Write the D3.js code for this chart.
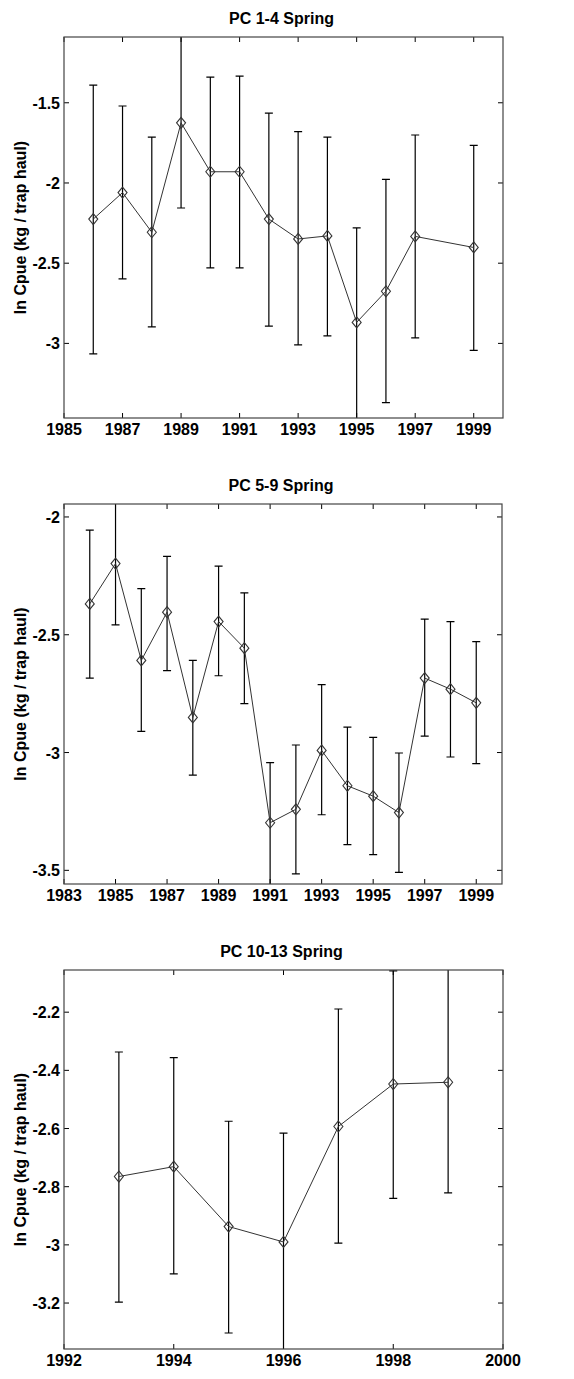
<!DOCTYPE html>
<html>
<head>
<meta charset="utf-8">
<script src="https://cdn.jsdelivr.net/npm/d3@7"></script>
<style>
  body { margin: 0; background: #fff; }
  text { font-family: "Liberation Sans", Arial, sans-serif; font-weight: bold; fill: #000; }
</style>
</head>
<body>
<svg width="574" height="1379"></svg>
<script>
// panel 1: PC 1-4 Spring
const years1 = [1986, 1987, 1988, 1989, 1990, 1991, 1992, 1993, 1994, 1995, 1996, 1997, 1999];
const mean1  = [-2.225, -2.06, -2.307, -1.625, -1.93, -1.93, -2.225, -2.349, -2.33, -2.869, -2.675, -2.333, -2.402];
const upper1 = [-1.39, -1.52, -1.714, -1.07, -1.34, -1.334, -1.564, -1.68, -1.714, -2.28, -1.977, -1.701, -1.766];
const lower1 = [-3.065, -2.598, -2.897, -2.156, -2.529, -2.529, -2.892, -3.009, -2.953, -3.48, -3.369, -2.965, -3.044];
const yTicks1 = [-3, -2.5, -2, -1.5];
const xTicks1 = [1985, 1987, 1989, 1991, 1993, 1995, 1997, 1999];

// panel 2: PC 5-9 Spring
const years2 = [1984, 1985, 1986, 1987, 1988, 1989, 1990, 1991, 1992, 1993, 1994, 1995, 1996, 1997, 1998, 1999];
const mean2  = [-2.369, -2.198, -2.609, -2.404, -2.851, -2.444, -2.557, -3.298, -3.241, -2.991, -3.141, -3.185, -3.255, -2.684, -2.731, -2.789];
const upper2 = [-2.056, -1.93, -2.304, -2.167, -2.609, -2.209, -2.322, -3.043, -2.968, -2.712, -2.892, -2.936, -3.002, -2.434, -2.444, -2.529];
const lower2 = [-2.684, -2.458, -2.91, -2.652, -3.096, -2.674, -2.792, -3.575, -3.515, -3.264, -3.391, -3.433, -3.509, -2.93, -3.019, -3.047];
const yTicks2 = [-3.5, -3, -2.5, -2];
const xTicks2 = [1983, 1985, 1987, 1989, 1991, 1993, 1995, 1997, 1999];

// panel 3: PC 10-13 Spring
const years3 = [1993, 1994, 1995, 1996, 1997, 1998, 1999];
const mean3  = [-2.765, -2.731, -2.937, -2.99, -2.593, -2.447, -2.441];
const upper3 = [-2.337, -2.356, -2.575, -2.616, -2.189, -2.058, -2.04];
const lower3 = [-3.197, -3.1, -3.303, -3.375, -2.994, -2.84, -2.821];
const yTicks3 = [-3.2, -3, -2.8, -2.6, -2.4, -2.2];
const xTicks3 = [1992, 1994, 1996, 1998, 2000];

const titles = ['PC 1-4 Spring', 'PC 5-9 Spring', 'PC 10-13 Spring'];
const yLabel = 'ln Cpue (kg / trap haul)';

const svg = d3.select('svg');

function drawPanel(i, box, xDom, yDom, xTicks, yTicks, years, mean, upper, lower) {
  const x = d3.scaleLinear().domain(xDom).range([box.left, box.right]);
  const y = d3.scaleLinear().domain(yDom).range([box.bottom, box.top]);
  const g = svg.append('g');
  const w = box.right - box.left, h = box.bottom - box.top;

  g.append('clipPath').attr('id', 'clip' + i)
    .append('rect').attr('x', box.left).attr('y', box.top).attr('width', w).attr('height', h);

  // ticks (inward, all four sides)
  const tk = 5;
  g.selectAll('.xt').data(xTicks).enter().append('path')
    .attr('d', d => `M${x(d)},${box.bottom}v${-tk}M${x(d)},${box.top}v${tk}`)
    .attr('stroke', '#000').attr('stroke-width', 1);
  g.selectAll('.yt').data(yTicks).enter().append('path')
    .attr('d', d => `M${box.left},${y(d)}h${tk}M${box.right},${y(d)}h${-tk}`)
    .attr('stroke', '#000').attr('stroke-width', 1);

  g.selectAll('.xl').data(xTicks).enter().append('text')
    .attr('x', d => x(d)).attr('y', box.bottom + 17)
    .attr('text-anchor', 'middle').attr('font-size', 16)
    .text(d => d);
  g.selectAll('.yl').data(yTicks).enter().append('text')
    .attr('x', box.left - 4).attr('y', d => y(d) + 6)
    .attr('text-anchor', 'end').attr('font-size', 16)
    .text(d => d);

  // error bars
  const pg = g.append('g').attr('clip-path', `url(#clip${i})`);
  const cap = 4;
  years.forEach((yr, k) => {
    const cx = x(yr);
    pg.append('path')
      .attr('d', `M${cx},${y(upper[k])}V${y(lower[k])}` +
                 `M${cx - cap},${y(upper[k])}h${2 * cap}M${cx - cap},${y(lower[k])}h${2 * cap}`)
      .attr('stroke', '#000').attr('stroke-width', 1.2).attr('fill', 'none');
  });

  const line = d3.line().x((d, k) => x(years[k])).y(d => y(d));
  pg.append('path').datum(mean)
    .attr('d', line)
    .attr('fill', 'none').attr('stroke', '#333').attr('stroke-width', 1);

  pg.selectAll('.mk').data(mean).enter().append('path')
    .attr('transform', (d, k) => `translate(${x(years[k])},${y(d)})`)
    .attr('d', 'M0,-5.5L4.5,0L0,5.5L-4.5,0Z')
    .attr('fill', 'none').attr('stroke', '#333').attr('stroke-width', 1.1);

  // frame
  g.append('rect').attr('x', box.left).attr('y', box.top).attr('width', w).attr('height', h)
    .attr('fill', 'none').attr('stroke', '#444').attr('stroke-width', 1.2);

  g.append('text').attr('x', (box.left + box.right) / 2 - 2).attr('y', box.top - 13)
    .attr('text-anchor', 'middle').attr('font-size', 16).text(titles[i]);

  g.append('text')
    .attr('transform', `translate(26,${(box.top + box.bottom) / 2}) rotate(-90)`)
    .attr('text-anchor', 'middle').attr('font-size', 16).text(yLabel);
}

drawPanel(0, { left: 64, right: 503, top: 37, bottom: 418 }, [1985, 2000], [-3.465, -1.09],
  xTicks1, yTicks1, years1, mean1, upper1, lower1);
drawPanel(1, { left: 64, right: 502, top: 504, bottom: 884 }, [1983, 2000], [-3.558, -1.945],
  xTicks2, yTicks2, years2, mean2, upper2, lower2);
drawPanel(2, { left: 64, right: 503, top: 970, bottom: 1349 }, [1992, 2000], [-3.358, -2.055],
  xTicks3, yTicks3, years3, mean3, upper3, lower3);
</script>
</body>
</html>
